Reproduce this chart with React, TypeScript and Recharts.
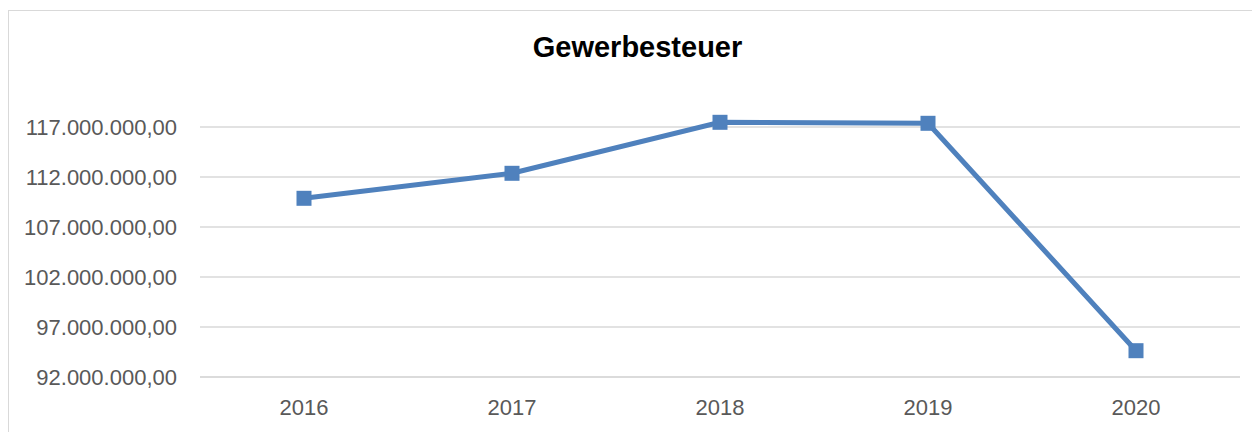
import React from "react";
import { LineChart, Line, XAxis, YAxis, CartesianGrid } from "recharts";

const years = ["2016", "2017", "2018", "2019", "2020"];
const gewerbesteuer = [109870000, 112370000, 117470000, 117370000, 94630000];
const yTicks = [92000000, 97000000, 102000000, 107000000, 112000000, 117000000];

const data = years.map((y, i) => ({ year: y, value: gewerbesteuer[i] }));

const FONT = '"Liberation Sans", Arial, sans-serif';
const COLOR = "#4F81BD";

const fmt = (v: number) => {
  const s = Math.round(v).toString().replace(/\B(?=(\d{3})+(?!\d))/g, ".");
  return s + ",00";
};

const SquareDot = (props: any) => {
  const { cx, cy, index } = props;
  if (cx == null || cy == null) return null;
  return <rect key={`d-${index}`} x={cx - 7.5} y={cy - 7.5} width={15} height={15} fill={COLOR} />;
};

export default function App() {
  return (
    <div
      style={{
        position: "relative",
        marginTop: 2,
        width: 1251,
        height: 421,
        borderTop: "1px solid #d9d9d9",
        borderLeft: "1px solid #d9d9d9",
      }}
    >
      <div
        style={{
          position: "absolute",
          left: 0,
          top: 21.8,
          width: 1257,
          textAlign: "center",
          fontFamily: FONT,
          fontWeight: "bold",
          fontSize: 29,
          lineHeight: "29px",
          color: "#000",
        }}
      >
        Gewerbesteuer
      </div>
      <LineChart
        width={1251}
        height={421}
        data={data}
        margin={{ top: 66, right: 20, bottom: 25, left: 0 }}
      >
        <CartesianGrid
          horizontal
          vertical={false}
          syncWithTicks
          stroke="#d9d9d9"
          strokeWidth={1.3}
        />
        <XAxis
          dataKey="year"
          height={30}
          padding={{ left: 104, right: 104 }}
          axisLine={{ stroke: "#d9d9d9", strokeWidth: 1.3 }}
          tickLine={false}
          tickMargin={16}
          tick={{ fill: "#595959", fontSize: 22, fontFamily: FONT }}
        />
        <YAxis
          width={191}
          domain={[92000000, 122000000]}
          ticks={yTicks}
          interval={0}
          axisLine={false}
          tickLine={false}
          tickMargin={17}
          tickFormatter={fmt}
          tick={{ fill: "#595959", fontSize: 22, fontFamily: FONT }}
        />
        <Line
          type="linear"
          dataKey="value"
          stroke={COLOR}
          strokeWidth={5}
          dot={SquareDot}
          activeDot={false}
          isAnimationActive={false}
        />
      </LineChart>
    </div>
  );
}
